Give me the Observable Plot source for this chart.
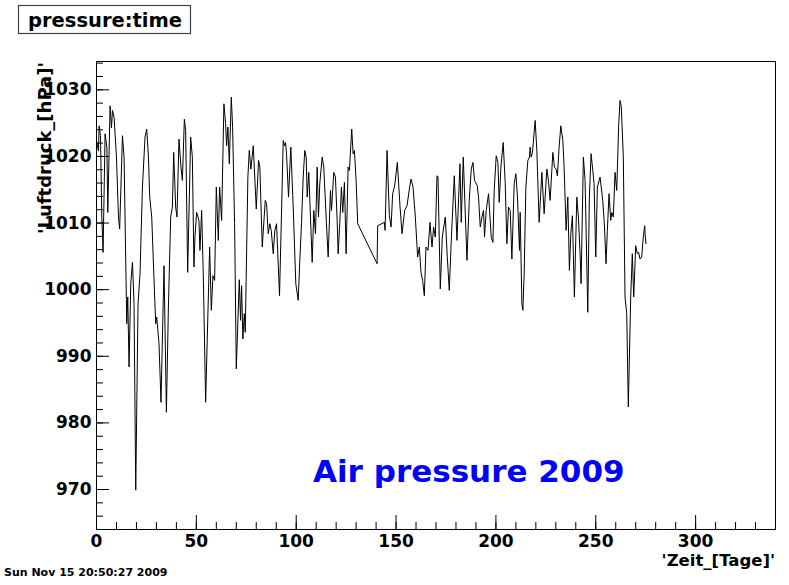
<!DOCTYPE html>
<html>
<head>
<meta charset="utf-8">
<script src="https://cdn.jsdelivr.net/npm/d3@7"></script>
<script src="https://cdn.jsdelivr.net/npm/@observablehq/plot@0.6"></script>
<style>
  html, body { margin: 0; padding: 0; background: #fff; }
  #chart { width: 789px; height: 585px; }
</style>
</head>
<body>
<div id="chart"></div>
<script>
// ---- Data ----
const day = [
  0, 1, 1.3, 2, 2.65, 3.3, 4.3, 5.2, 5.65, 6.8, 7.5, 8, 8.8, 10, 11, 11.6, 13, 13.8,
  15.15, 15.65, 16.3, 17.15, 18, 18.8, 19.65, 20.8, 21.8, 23, 24.3, 25.15, 26, 26.65,
  27.65, 29, 29.65, 30.15, 31.3, 32.3, 33.8, 35, 36, 37.15, 38, 38.65, 39.65, 40.3,
  41.3, 42.3, 43, 44, 44.65, 45.65, 47.15, 48, 48.8, 49.3, 50.15, 51.3, 51.8, 52.65,
  53.5, 54.65, 56.65, 57.5, 58.3, 59.15, 60, 61, 61.65, 62.65, 63.8, 64.65, 65.15,
  65.8, 66.5, 67.5, 68.15, 69.15, 70, 71.5, 72.15, 72.65, 73.3, 74, 74.5, 75.8, 76.5,
  77.3, 78.5, 80, 81.15, 81.8, 83, 84.5, 85.15, 86, 86.8, 87.5, 88.5, 89.3, 90.15,
  91.65, 93.5, 94.15, 94.65, 95.15, 96.15, 97.3, 98.5, 99.8, 101, 101.8, 102.65, 103.5,
  104.3, 105, 105.5, 106.3, 108, 108.8, 109.65, 110.5, 111.15, 111.8, 113, 113.8,
  115.15, 116, 117.15, 117.65, 118.8, 119.65, 120.5, 121, 121.8, 122.65, 123.3, 124.15,
  125, 126, 126.65, 127.8, 128.5, 129.15, 130, 130.8, 140.5, 140.8, 144.15, 144.5,
  145.5, 146.65, 147.5, 148.3, 149.3, 150.65, 152, 153, 154.3, 155.5, 156.65, 157.5,
  158.5, 159.65, 160.8, 161.65, 162.5, 163.3, 164.15, 165, 166, 167, 168, 168.8,
  169.65, 170.5, 171, 172.15, 173.15, 174.65, 175.65, 176.65, 177.65, 179.15, 180.5,
  182, 182.65, 183.65, 185.5, 186.65, 187.65, 188.5, 189.3, 190.65, 191.3, 192.15, 193,
  193.8, 194.3, 195.15, 196.3, 197.65, 198.5, 199.15, 200.15, 201, 201.65, 202.5,
  203.65, 204.65, 205.5, 206.3, 207.15, 208, 209.15, 210, 210.8, 211.8, 212.15, 213,
  213.5, 214.15, 215, 216, 216.8, 217.15, 217.65, 218.3, 219.65, 220.5, 221.65, 223,
  224.15, 225.5, 226.3, 227.15, 228.5, 229.3, 230.15, 230.8, 231.65, 232.5, 233.5,
  234.15, 235.15, 236, 236.8, 237.5, 238.3, 239.3, 240.5, 241.3, 242.15, 242.65, 243.8,
  244.65, 246, 246.8, 247.65, 248.5, 249.15, 250, 250.8, 252.15, 253.5, 254.3, 255.15,
  255.8, 256.65, 257.5, 258, 258.8, 259.65, 260.5, 261.5, 262.15, 262.8, 263.8, 264.65,
  265.5, 266.3, 267.5, 268.3, 269, 270, 270.8, 271.5, 272.15, 273, 273.8, 274.5, 274.8,
  275.15
];
const pressure = [
  1022.4, 1020.8, 1024.6, 1023.1, 1010.9, 1005.6, 1023.4, 1021.4, 1011.6, 1027.6, 1024.3, 1026.9, 1025.9, 1019.9, 1010.9, 1009.1, 1023.1, 1019.9,
  994.9, 998.9, 988.4, 1000.9, 1004.1, 997.9, 969.9, 997.9, 1002.4, 1015.4, 1022.9, 1024.1, 1019.9, 1013.9,
  1010.9, 999.9, 994.9, 995.9, 991.9, 983.1, 1003.6, 981.6, 997.4, 1010.9, 1012.4, 1020.6, 1012.4, 1010.9,
  1022.6, 1018.4, 1016.4, 1025.6, 1023.9, 1002.6, 1022.9, 1019.9, 1003.4, 1007.9, 1011.6, 1010.4, 1005.9, 1011.9,
  1001.9, 983.1, 1006.4, 996.9, 1002.1, 1001.4, 1015.4, 1007.4, 1015.4, 1010.4, 1027.9, 1024.9, 1021.6,
  1024.4, 1018.9, 1028.9, 1024.4, 1009.9, 988.1, 1001.5, 995.4, 1000.6, 992.6, 996.4, 993.6, 1016.9, 1020.9,
  1018.1, 1021.6, 1012.1, 1019.4, 1018.4, 1006.4, 1013.4, 1012.9, 1008.4, 1009.9, 1008.9, 1005.4, 1008.9, 1009.9,
  999.1, 1022.4, 1021.6, 1022.1, 1020.4, 1013.9, 1021.4, 1012.4, 1000.9, 998.4, 1004.4, 1009.9, 1016.9,
  1020.9, 1019.9, 1013.9, 1017.6, 1004.1, 1011.9, 1008.4, 1018.4, 1010.9, 1015.9, 1019.9, 1018.4,
  1009.9, 1004.9, 1014.9, 1011.9, 1017.6, 1016.9, 1010.4, 1005.4, 1009.9, 1015.4, 1011.6, 1016.1,
  1005.4, 1018.4, 1017.9, 1024.1, 1020.4, 1020.9, 1016.4, 1009.9, 1003.9, 1009.6, 1010.1, 1008.9,
  1020.9, 1011.1, 1009.4, 1014.4, 1015.6, 1019.1, 1012.4, 1008.4, 1011.9, 1012.6, 1015.1, 1016.6,
  1015.4, 1010.9, 1004.9, 1006.4, 1002.6, 1001.4, 999.1, 1006.4, 1005.9, 1010.1, 1006.4, 1009.4,
  1007.9, 1017.1, 1016.9, 1000.1, 1007.9, 1010.9, 1004.9, 999.9, 1007.4, 1017.1, 1007.4,
  1018.9, 1010.1, 1019.9, 1004.4, 1013.4, 1018.1, 1019.1, 1016.4, 1015.6, 1013.9, 1009.4, 1010.9,
  1011.9, 1007.9, 1011.9, 1014.4, 1007.9, 1007.1, 1014.9, 1020.1, 1019.1, 1013.1, 1018.4,
  1022.1, 1016.1, 1006.9, 1012.4, 1011.9, 1004.6, 1015.9, 1017.4, 1013.9, 1005.9, 1011.6, 997.9,
  996.9, 1002.4, 1015.4, 1019.4, 1019.9, 1021.4, 1019.9, 1020.6, 1025.4, 1020.9, 1010.1, 1017.6,
  1011.4, 1018.1, 1016.4, 1013.4, 1020.6, 1018.4, 1018.1, 1017.1, 1021.4, 1024.6, 1022.4,
  1018.4, 1008.9, 1013.9, 1002.9, 1008.4, 1011.1, 998.9, 1013.9, 1010.9, 1005.4, 1000.9, 1019.9,
  1016.4, 996.6, 1013.9, 1020.4, 1017.9, 1015.9, 1004.9, 1015.4, 1016.9, 1013.4, 1009.9, 1003.9,
  1008.9, 1014.4, 1010.4, 1011.6, 1010.9, 1017.6, 1014.9, 1024.9, 1028.4, 1027.4, 1019.9, 998.9,
  996.4, 982.4, 998.9, 1005.4, 998.9, 1006.6, 1005.4, 1005.6, 1004.6, 1004.9, 1007.9, 1009.6, 1007.9,
  1006.9
];
const xMajorTicks = [0, 50, 100, 150, 200, 250, 300];
const xMinorTicks = d3.range(0, 341, 10);
const yMajorTicks = [970, 980, 990, 1000, 1010, 1020, 1030];
const yMinorTicks = d3.range(964, 1035, 2);
const titleText = "pressure:time";
const xLabel = "'Zeit_[Tage]'";
const yLabel = "'Luftdruck_[hPa]'";
const annotation = "Air pressure 2009";
const dateStamp = "Sun Nov 15 20:50:27 2009";

const rows = day.map((d, i) => ({day: d, pressure: pressure[i]}));

const FONT = "DejaVu Sans";

const plot = Plot.plot({
  width: 789,
  height: 585,
  marginLeft: 96,
  marginRight: 14,
  marginTop: 61,
  marginBottom: 56,
  x: {domain: [0, 340], label: null},
  y: {domain: [964, 1034.25], label: null},
  style: {fontFamily: FONT, fontWeight: "bold", fontSize: "17px", color: "#000", background: "#fff", overflow: "visible"},
  marks: [
    Plot.line(rows, {x: "day", y: "pressure", stroke: "#000", strokeWidth: 1}),
    Plot.frame({stroke: "#000", strokeWidth: 1}),
    Plot.axisX(xMinorTicks, {tickSize: -7, tickFormat: () => "", label: null}),
    Plot.axisX(xMajorTicks, {tickSize: -14, tickFormat: () => "", label: null}),
    Plot.axisX(xMajorTicks, {tickSize: 0, tickPadding: 5.5, label: null, fontSize: 17, tickFormat: d => String(d)}),
    Plot.axisY(yMinorTicks, {tickSize: -7, tickFormat: () => "", label: null}),
    Plot.axisY(yMajorTicks, {tickSize: -13, tickFormat: () => "", label: null}),
    Plot.axisY(yMajorTicks, {tickSize: 0, tickPadding: 5, label: null, fontSize: 17, tickFormat: d => String(d)})
  ]
});

document.getElementById("chart").appendChild(plot);

const svg = d3.select(plot);
const g = svg.append("g").attr("text-anchor", "start").attr("font-family", FONT).attr("font-weight", "bold");

// Title box
g.append("rect")
  .attr("x", 18.5).attr("y", 5.5).attr("width", 172).attr("height", 28)
  .attr("fill", "#fff").attr("stroke", "#444").attr("stroke-width", 1.2);
g.append("text")
  .attr("x", 28).attr("y", 26.5)
  .attr("text-anchor", "start")
  .attr("font-size", 19.5)
  .attr("fill", "#000")
  .text(titleText);

// Y axis label (rotated, right aligned at top)
g.append("text")
  .attr("transform", "translate(51,62) rotate(-90)")
  .attr("text-anchor", "end")
  .attr("font-size", 18)
  .attr("fill", "#000")
  .text(yLabel);

// X axis label (right aligned)
g.append("text")
  .attr("x", 775).attr("y", 566)
  .attr("text-anchor", "end")
  .attr("font-size", 16.5)
  .attr("fill", "#000")
  .text(xLabel);

// Annotation
g.append("text")
  .attr("x", 313).attr("y", 482)
  .attr("text-anchor", "start")
  .attr("font-size", 31)
  .attr("fill", "#0000ff")
  .text(annotation);

// Date stamp
g.append("text")
  .attr("x", 4).attr("y", 576)
  .attr("text-anchor", "start")
  .attr("font-size", 11)
  .attr("fill", "#000")
  .text(dateStamp);
</script>
</body>
</html>
